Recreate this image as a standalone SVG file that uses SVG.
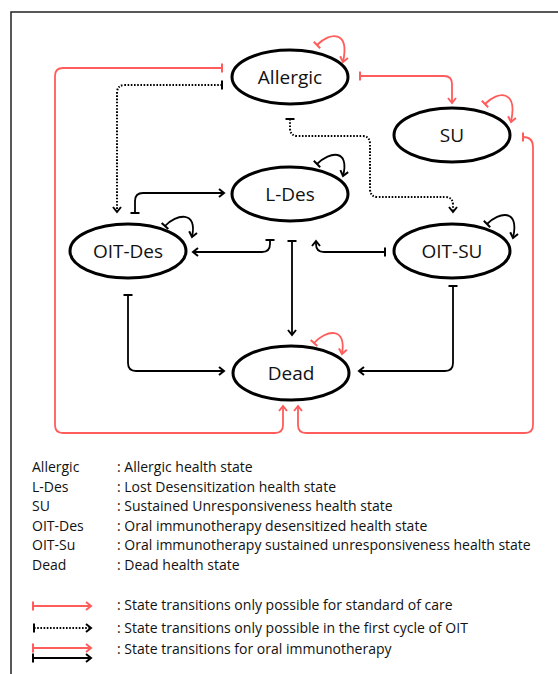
<svg xmlns="http://www.w3.org/2000/svg" width="558" height="674" viewBox="0 0 558 674">
<style>
.node ellipse{fill:#fff;stroke:#000;stroke-width:3}
.node text{font-family:"Open Sans","Liberation Sans",sans-serif;font-size:19px;fill:#111;text-anchor:middle;dominant-baseline:central}
.c{fill:none;stroke-width:1.8}
.b{stroke:#000;marker-start:url(#teeB);marker-end:url(#arrB)}
.r{stroke:#ff5c5c;marker-start:url(#teeR);marker-end:url(#arrR)}
.d{stroke:#000;stroke-dasharray:1.6 1.6;stroke-width:2;marker-start:url(#teeB);marker-end:url(#arrB)}
.lg{font-family:"Open Sans","Liberation Sans",sans-serif;font-size:14px;fill:#111}
</style>
<defs>
<marker id="arrB" markerUnits="userSpaceOnUse" viewBox="-7 -5 9 10" refX="0" refY="0" markerWidth="9" markerHeight="10" orient="auto" overflow="visible"><path d="M-5,-4 L0,0 L-5,4" fill="none" stroke="#000" stroke-width="2"/></marker>
<marker id="arrR" markerUnits="userSpaceOnUse" viewBox="-7 -5 9 10" refX="0" refY="0" markerWidth="9" markerHeight="10" orient="auto" overflow="visible"><path d="M-5,-4 L0,0 L-5,4" fill="none" stroke="#ff5c5c" stroke-width="2"/></marker>
<marker id="teeB" markerUnits="userSpaceOnUse" viewBox="-2 -5 4 10" refX="0" refY="0" markerWidth="4" markerHeight="10" orient="auto" overflow="visible"><path d="M0,-4.5 V4.5" fill="none" stroke="#000" stroke-width="2"/></marker>
<marker id="teeR" markerUnits="userSpaceOnUse" viewBox="-2 -5 4 10" refX="0" refY="0" markerWidth="4" markerHeight="10" orient="auto" overflow="visible"><path d="M0,-4.5 V4.5" fill="none" stroke="#ff5c5c" stroke-width="2"/></marker>
</defs>
<rect width="558" height="674" fill="#fff"/>
<path d="M11,674 V12 H558" fill="none" stroke="#222" stroke-width="1.5"/>

<g id="connectors">
<path class="c r" d="M222,68 H63 Q55,68 55,76 V425 Q55,433 63,433 H275 Q283,433 283,425 V406"/>
<path class="c r" d="M360,76 H444 Q452,76 452,84 V103"/>
<path class="c r" d="M523,137 Q533,137 533,147 V425 Q533,433 525,433 H306 Q298,433 298,425 V406"/>
<path class="c d" d="M222,85 H125 Q117,85 117,93 V212"/>
<path class="c d" d="M290,119 V128 Q290,136 298,136 H362 Q370,136 370,144 V189 Q370,197 378,197 H445 Q453,197 453,205 V212"/>
<path class="c b" d="M135,213 V201 Q135,193 143,193 H224"/>
<path class="c b" d="M270,240 V244 Q270,252 262,252 H193"/>
<path class="c b" d="M292,241 V335"/>
<path class="c b" d="M385,252 H324 Q316,252 316,244 V241"/>
<path class="c b" d="M128,295 V363 Q128,371 136,371 H224"/>
<path class="c b" d="M453,286 V363 Q453,371 445,371 H359"/>
<path class="c r" d="M317,45 C330,32 350,30 343,62"/>
<path class="c r" d="M485,104 C498,91 518,89 511,122"/>
<path class="c b" d="M317,164 C330,151 350,149 343,176"/>
<path class="c b" d="M165,226 C176,214 198,210 192,237"/>
<path class="c b" d="M487,224 C499,212 520,208 513,238"/>
<path class="c r" d="M314,343 C326,330 347,326 342,354"/>
</g>

<g id="allergic" class="node"><ellipse cx="290" cy="77" rx="58" ry="27"/><text x="290" y="77">Allergic</text></g>
<g id="su" class="node"><ellipse cx="452" cy="135" rx="58" ry="27"/><text x="452" y="135">SU</text></g>
<g id="ldes" class="node"><ellipse cx="290" cy="194" rx="58" ry="27"/><text x="290" y="194">L-Des</text></g>
<g id="oitdes" class="node"><ellipse cx="128" cy="251" rx="58" ry="27"/><text x="128" y="251">OIT-Des</text></g>
<g id="oitsu" class="node"><ellipse cx="452" cy="251" rx="58" ry="27"/><text x="452" y="251">OIT-SU</text></g>
<g id="dead" class="node"><ellipse cx="291" cy="373" rx="58" ry="27"/><text x="291" y="373">Dead</text></g>

<g id="legend">
<text class="lg" x="32" y="472">Allergic</text><text class="lg" x="117" y="472">: Allergic health state</text>
<text class="lg" x="32" y="491.5">L-Des</text><text class="lg" x="117" y="491.5">: Lost Desensitization health state</text>
<text class="lg" x="32" y="511">SU</text><text class="lg" x="117" y="511">: Sustained Unresponsiveness health state</text>
<text class="lg" x="32" y="530.5">OIT-Des</text><text class="lg" x="117" y="530.5">: Oral immunotherapy desensitized health state</text>
<text class="lg" x="32" y="550">OIT-Su</text><text class="lg" x="117" y="550">: Oral immunotherapy sustained unresponsiveness health state</text>
<text class="lg" x="32" y="569.5">Dead</text><text class="lg" x="117" y="569.5">: Dead health state</text>
<path class="c r" d="M33,606 H91"/>
<path class="c d" d="M34,628 H91"/>
<path class="c r" d="M33,648 H91"/>
<path class="c b" d="M33,658 H91"/>
<text class="lg" x="117" y="610">: State transitions only possible for standard of care</text>
<text class="lg" x="117" y="633">: State transitions only possible in the first cycle of OIT</text>
<text class="lg" x="117" y="654">: State transitions for oral immunotherapy</text>
</g>
</svg>
